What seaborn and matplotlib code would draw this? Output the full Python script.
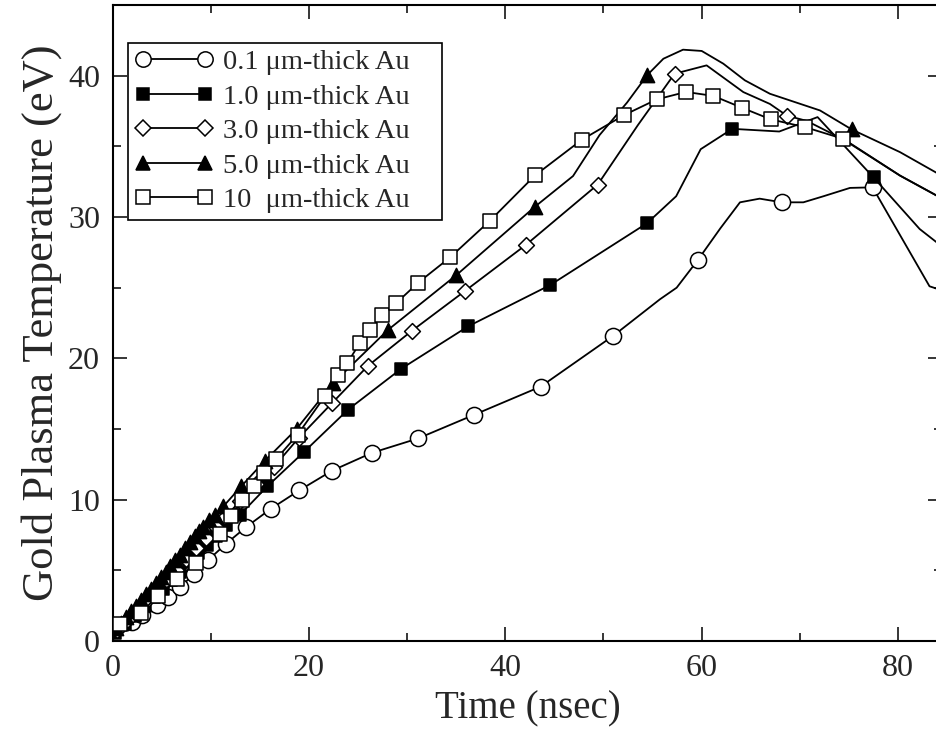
import numpy as np
import pandas as pd
import matplotlib
matplotlib.use("Agg")
import matplotlib.pyplot as plt
from matplotlib.lines import Line2D
import seaborn as sns

# ---------------- data ----------------
labels = ["0.1 \u03bcm-thick Au", "1.0 \u03bcm-thick Au", "3.0 \u03bcm-thick Au",
          "5.0 \u03bcm-thick Au", "10  \u03bcm-thick Au"]

# 0.1 um : marker points
au01_t = [0.08, 1.95, 2.97, 4.5, 5.68, 6.87, 8.33, 9.76, 11.56, 13.6, 16.13, 19.02,
          22.38, 26.4, 31.1, 36.8, 43.6, 51.0, 59.6, 68.15, 77.4]
au01_T = [0.78, 1.37, 1.84, 2.55, 3.14, 3.81, 4.75, 5.74, 6.88, 8.06, 9.36, 10.66,
          12.06, 13.31, 14.33, 16.0, 18.0, 21.6, 26.95, 31.04, 32.1]
# 0.1 um : additional line vertices
au01_xt = [55.75, 57.45, 61.9, 63.9, 65.9, 70.35, 72.4, 75.1, 83.2, 84.5]
au01_xT = [24.18, 25.0, 29.2, 31.04, 31.3, 31.04, 31.47, 32.06, 25.1, 24.8]

# 1.0 um
au10_t = [0.3, 1.3, 2.3, 3.3, 4.2, 5.1, 6.0, 6.9, 7.8, 8.7, 9.6, 10.5, 11.6, 13.0,
          15.76, 19.53, 24.0, 29.41, 36.23, 44.58, 54.43, 63.12, 77.5]
au10_T = [0.6, 1.2, 1.8, 2.5, 3.1, 3.7, 4.3, 4.9, 5.6, 6.2, 6.8, 7.4, 8.2, 8.94,
          10.94, 13.4, 16.38, 19.27, 22.27, 25.19, 29.56, 36.24, 32.8]
au10_xt = [57.4, 59.9, 67.9, 71.8, 82.2, 84.5]
au10_xT = [31.47, 34.8, 36.05, 37.07, 29.15, 27.9]

# 3.0 um
au30_t = [0.5, 1.5, 2.5, 3.5, 4.5, 5.5, 6.5, 7.5, 8.5, 9.5, 10.5, 11.5, 13.0, 14.6,
          16.4, 19.0, 22.32, 26.0, 30.47, 35.9, 42.1, 49.42, 57.24, 68.66]
au30_T = [0.8, 1.5, 2.2, 2.9, 3.6, 4.3, 5.0, 5.8, 6.6, 7.3, 8.1, 8.8, 9.9, 11.1,
          12.3, 14.4, 16.81, 19.46, 21.94, 24.77, 28.03, 32.3, 40.14, 37.18]
au30_xt = [53.5, 60.5, 64.24, 66.95, 70.7, 74.4, 80.2, 84.5]
au30_xT = [36.5, 40.73, 38.84, 38.0, 36.8, 35.5, 32.93, 31.3]

# 5.0 um
au50_t = [0.4, 0.9, 1.4, 1.9, 2.4, 2.9, 3.4, 3.9, 4.4, 4.9, 5.4, 5.9, 6.4, 6.9, 7.4,
          7.9, 8.4, 8.84, 9.25, 9.86, 10.44, 11.28, 13.1, 15.5, 18.74, 22.49, 28.03,
          35.0, 43.02, 54.48, 75.27]
au50_T = [0.9, 1.3, 1.7, 2.1, 2.5, 2.9, 3.3, 3.7, 4.1, 4.5, 4.9, 5.3, 5.7, 6.1, 6.6,
          7.0, 7.4, 7.75, 8.1, 8.58, 8.94, 9.52, 10.94, 12.74, 15.0, 18.26, 22.0,
          25.88, 30.73, 40.06, 36.2]
au50_xt = [46.9, 49.6, 52.4, 56.1, 58.1, 60.0, 62.2, 64.4, 66.95, 72.05, 80.2, 84.5]
au50_xT = [32.9, 35.8, 38.1, 41.2, 41.84, 41.75, 40.85, 39.67, 38.72, 37.54, 34.59, 32.9]

# 10 um
au100_t = [0.76, 2.9, 4.6, 6.6, 8.47, 10.95, 12.07, 13.22, 14.4, 15.46, 16.65, 18.86,
           21.64, 23.0, 23.9, 25.16, 26.22, 27.44, 28.92, 31.14, 34.37, 38.44, 43.02,
           47.78, 52.09, 55.42, 58.4, 61.18, 64.07, 67.03, 70.52, 74.42]
au100_T = [1.2, 2.0, 3.2, 4.4, 5.5, 7.6, 8.87, 9.96, 11.0, 11.91, 12.86, 14.61,
           17.33, 18.84, 19.65, 21.06, 22.0, 23.05, 23.93, 25.36, 27.14, 29.74, 32.94,
           35.46, 37.21, 38.32, 38.85, 38.57, 37.74, 36.91, 36.36, 35.53]
au100_xt = [80.2, 84.5]
au100_xT = [32.93, 31.3]

x_major = [0, 20, 40, 60, 80]
y_major = [0, 10, 20, 30, 40]

series = [
    (au01_t, au01_T, au01_xt, au01_xT, "o", "white", 135),
    (au10_t, au10_T, au10_xt, au10_xT, "s", "black", 85),
    (au30_t, au30_T, au30_xt, au30_xT, "D", "white", 65),
    (au50_t, au50_T, au50_xt, au50_xT, "^", "black", 105),
    (au100_t, au100_T, au100_xt, au100_xT, "s", "white", 110),
]

# ---------------- style ----------------
sns.set_style("ticks")
plt.rcParams["font.family"] = ["Liberation Serif", "DejaVu Serif"]
plt.rcParams["axes.linewidth"] = 1.5

fig = plt.figure(figsize=(9.36, 7.38), dpi=100)
ax = fig.add_axes([0.1202, 0.1314, 0.8865, 0.8618])

handles = []
for i, (mt, mT, xt, xT, mk, fc, sz) in enumerate(series):
    df = pd.DataFrame({"t": list(mt) + list(xt), "T": list(mT) + list(xT)})
    df = df.sort_values("t")
    sns.lineplot(data=df, x="t", y="T", ax=ax, color="black", linewidth=1.3,
                 estimator=None, sort=True, zorder=2 + 2 * i)
    dm = pd.DataFrame({"t": mt, "T": mT})
    sns.scatterplot(data=dm, x="t", y="T", ax=ax, marker=mk, s=sz, color=fc,
                    edgecolor="black", linewidth=1.1, zorder=3 + 2 * i)
    msize = np.sqrt(sz) * 0.95
    handles.append(Line2D([], [], color="black", lw=1.3, marker=mk,
                          markersize=msize, markerfacecolor=fc,
                          markeredgecolor="black", markeredgewidth=1.1))

ax.set_xlim(0, 84.5)
ax.set_ylim(0, 45)
ax.set_xticks(x_major)
ax.set_yticks(y_major)
ax.set_xticks([10, 30, 50, 70], minor=True)
ax.set_yticks([5, 15, 25, 35, 45], minor=True)
ax.tick_params(which="both", direction="in", top=True, right=True, width=1.1,
               labelsize=23, pad=9, color="black")
ax.tick_params(which="major", length=10)
ax.tick_params(which="minor", length=5.5)
for s in ax.spines.values():
    s.set_visible(True)
    s.set_color("black")
    s.set_linewidth(1.5)

ax.set_xlabel("Time (nsec)", fontsize=28, labelpad=6)
ax.set_ylabel("Gold Plasma Temperature (eV)", fontsize=32, labelpad=4)

leg = ax.legend(handles, labels, loc="upper left",
                bbox_to_anchor=(0.0187, 0.0, 0.3784, 0.940), mode="expand",
                frameon=True, fancybox=False, edgecolor="black", framealpha=1,
                fontsize=20.5, handlelength=2.8, numpoints=2, borderaxespad=0,
                labelspacing=0.3, handletextpad=0.3, borderpad=0.22)
leg.get_frame().set_linewidth(1.2)

fig.savefig("out.png", dpi=100)
